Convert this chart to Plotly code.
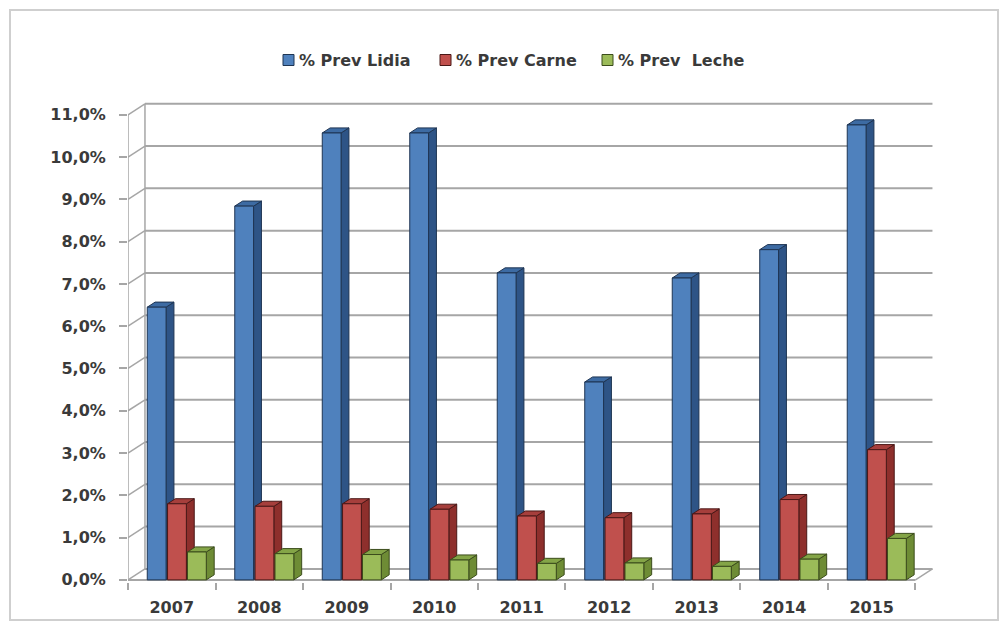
import plotly.graph_objects as go

years = ["2007", "2008", "2009", "2010", "2011", "2012", "2013", "2014", "2015"]
lidia = [6.45, 8.84, 10.57, 10.57, 7.26, 4.68, 7.14, 7.81, 10.76]
carne = [1.80, 1.74, 1.80, 1.67, 1.51, 1.47, 1.56, 1.90, 3.08]
leche = [0.66, 0.62, 0.60, 0.47, 0.39, 0.40, 0.32, 0.49, 0.98]
series_names = ["% Prev Lidia", "% Prev Carne", "% Prev\u00a0 Leche"]
y_ticks = list(range(0, 12))
y_ticktext = [f"{v},0%" for v in y_ticks]

# styles
front_cols = ["#4F81BD", "#C0504D", "#9BBB59"]
side_cols = ["#2E5486", "#8E2F2C", "#6E8C35"]
top_cols = ["#3D6BA3", "#A63F3C", "#84A547"]
edge_cols = ["#1F3553", "#4A1817", "#3B4C1C"]
offsets = [-0.28, -0.048, 0.18]
bar_w = 0.215
DX, DY = 0.194, 0.26        # wall depth in data units
BDX, BDY = 0.09, 0.12       # bar depth in data units
GRID = "#A6A6A6"
TXT = "#3A3A3A"
font_family = "'DejaVu Sans', Verdana, sans-serif"

# plot area geometry in pixels
L, R, T, B = 128, 935, 100, 582
PW, PH = R - L, B - T

idx = list(range(len(years)))
n = len(years)
xl, xr = -0.5, n - 0.5

fig = go.Figure()
shapes = []
annotations = []

# back wall gridlines and connectors
for k in y_ticks:
    if k > 0:
        shapes.append(dict(type="line", xref="x", yref="y", x0=xl + DX, x1=xr + DX,
                           y0=k + DY, y1=k + DY, line=dict(color=GRID, width=2), layer="below"))
    shapes.append(dict(type="line", xref="x", yref="y", x0=xl, x1=xl + DX,
                       y0=k, y1=k + DY, line=dict(color=GRID, width=1.5), layer="below"))
# wall left edge, floor
shapes.append(dict(type="line", xref="x", yref="y", x0=xl + DX, x1=xl + DX, y0=DY, y1=11 + DY,
                   line=dict(color=GRID, width=1.5), layer="below"))
shapes.append(dict(type="line", xref="x", yref="y", x0=xl + DX, x1=xr + DX, y0=DY, y1=DY,
                   line=dict(color=GRID, width=2), layer="below"))
shapes.append(dict(type="line", xref="x", yref="y", x0=xr, x1=xr + DX, y0=0, y1=DY,
                   line=dict(color=GRID, width=1.5), layer="below"))
shapes.append(dict(type="line", xref="x", yref="y", x0=xl, x1=xr, y0=0, y1=0,
                   line=dict(color=GRID, width=2), layer="below"))
shapes.append(dict(type="line", xref="x", yref="y", x0=xl, x1=xl, y0=0, y1=11,
                   line=dict(color=GRID, width=1.5), layer="below"))

# 3D faces of bars
for s, vals in enumerate([lidia, carne, leche]):
    for i, v in enumerate(vals):
        x0 = i + offsets[s]
        x1 = x0 + bar_w
        side = (f"M {x1} 0 L {x1 + BDX} {BDY} L {x1 + BDX} {v + BDY} L {x1} {v} Z")
        top = (f"M {x0} {v} L {x0 + BDX} {v + BDY} L {x1 + BDX} {v + BDY} L {x1} {v} Z")
        shapes.append(dict(type="path", xref="x", yref="y", path=side, fillcolor=side_cols[s],
                           line=dict(color=edge_cols[s], width=1), layer="below"))
        shapes.append(dict(type="path", xref="x", yref="y", path=top, fillcolor=top_cols[s],
                           line=dict(color=edge_cols[s], width=1), layer="below"))

for s, vals in enumerate([lidia, carne, leche]):
    fig.add_trace(go.Bar(x=idx, y=vals, name=series_names[s], width=bar_w, offset=offsets[s],
                         showlegend=False,
                         marker=dict(color=front_cols[s], line=dict(color=edge_cols[s], width=1))))

# custom legend (square + text), positions in pixels
legend_sq_x = [283, 440, 602]
legend_y = 60
for s in range(3):
    px0 = legend_sq_x[s]
    shapes.append(dict(type="rect", xref="paper", yref="paper",
                       x0=(px0 - L) / PW, x1=(px0 + 11 - L) / PW,
                       y0=(B - (legend_y + 5.5)) / PH, y1=(B - (legend_y - 5.5)) / PH,
                       fillcolor=front_cols[s], line=dict(color=edge_cols[s], width=1)))
    annotations.append(dict(xref="paper", yref="paper", x=(px0 + 14 - L) / PW,
                            y=(B - legend_y) / PH, xanchor="left", yanchor="middle",
                            text=series_names[s], showarrow=False,
                            font=dict(family=font_family, size=16, color=TXT, weight="bold")))

# outer frame
shapes.append(dict(type="rect", xref="paper", yref="paper",
                   x0=(10 - L) / PW, x1=(998 - L) / PW,
                   y0=(B - 620) / PH, y1=(B - 10) / PH,
                   line=dict(color="#CFCFCF", width=2), layer="below"))

fig.update_layout(
    width=1000, height=627,
    margin=dict(l=L, r=1000 - R, t=T, b=627 - B, autoexpand=False),
    paper_bgcolor="white", plot_bgcolor="white",
    barmode="overlay",
    shapes=shapes,
    annotations=annotations,
    showlegend=False,
    xaxis=dict(range=[xl, xr + (935 - 915.5) / 87.44], tickvals=idx, ticktext=years,
               showgrid=False, zeroline=False, showline=False, ticks="",
               tickfont=dict(family=font_family, size=16, color=TXT, weight="bold"),
               minor=dict(tickvals=[i - 0.5 for i in range(n + 1)], ticks="outside", ticklen=7,
                          tickcolor=GRID, tickwidth=1.5, showgrid=False),
               ticklabelstandoff=14, automargin=False, fixedrange=True),
    yaxis=dict(range=[-0.05, 11.35], tickvals=y_ticks, ticktext=y_ticktext,
               showgrid=False, zeroline=False, showline=False, ticks="outside", ticklen=8,
               tickcolor=GRID, tickwidth=1.5,
               tickfont=dict(family=font_family, size=16, color=TXT, weight="bold"),
               ticklabelstandoff=10, automargin=False, fixedrange=True),
)

fig.write_html("out.html")
